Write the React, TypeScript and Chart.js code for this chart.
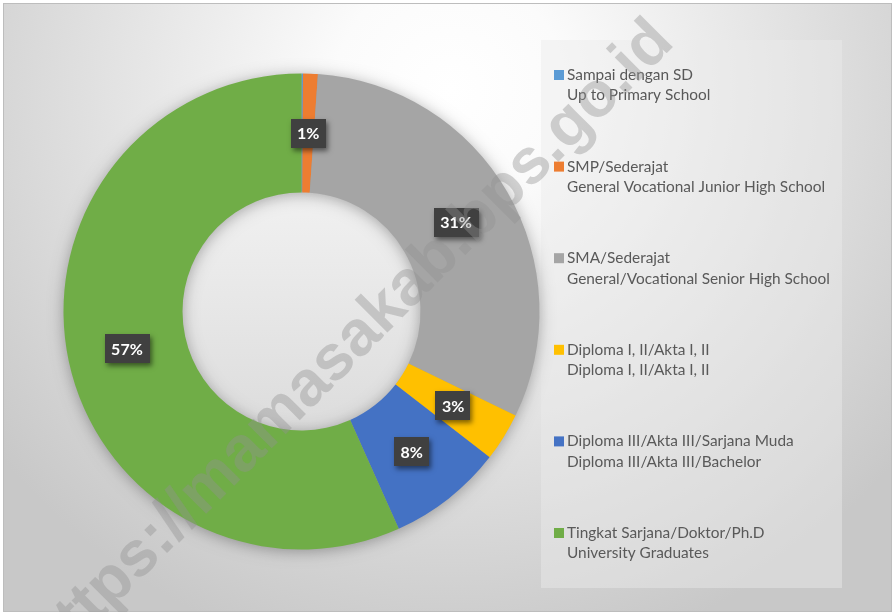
import React, { useEffect, useRef } from 'react';
import { Chart, registerables } from 'chart.js';

Chart.register(...registerables);

const categoriesId = [
  'Sampai dengan SD',
  'SMP/Sederajat',
  'SMA/Sederajat',
  'Diploma I, II/Akta I, II',
  'Diploma III/Akta III/Sarjana Muda',
  'Tingkat Sarjana/Doktor/Ph.D',
];
const categoriesEn = [
  'Up to Primary School',
  'General Vocational Junior High School',
  'General/Vocational Senior High School',
  'Diploma I, II/Akta I, II',
  'Diploma III/Akta III/Bachelor',
  'University Graduates',
];
const shares = [0.1, 1.0, 31.1, 3.3, 7.8, 56.7];
const sliceColors = ['#5B9BD5', '#ED7D31', '#A5A5A5', '#FFC000', '#4472C4', '#70AD47'];
const watermarkText = 'https://mamasakab.bps.go.id';

const FONT = 'Lato, "Liberation Sans", sans-serif';

const decorPlugin = {
  id: 'decor',
  beforeDraw(chart: any) {
    const ctx = chart.ctx;
    const W = chart.width;
    const H = chart.height;
    ctx.save();
    ctx.fillStyle = '#ffffff';
    ctx.fillRect(0, 0, W, H);
    const g = ctx.createRadialGradient(450, 90, 0, 450, 90, 580);
    g.addColorStop(0, '#ffffff');
    g.addColorStop(0.2, '#fbfbfb');
    g.addColorStop(1, '#c8c8c8');
    ctx.fillStyle = g;
    ctx.fillRect(4, 4, W - 6, H - 5);
    ctx.strokeStyle = '#bdbdbd';
    ctx.lineWidth = 1;
    ctx.strokeRect(3.5, 3.5, W - 5, H - 4);
    // legend box
    ctx.fillStyle = 'rgba(234,234,234,0.45)';
    ctx.fillRect(541, 40, 301, 548);
    ctx.restore();
  },
  beforeDatasetsDraw(chart: any) {
    const ctx = chart.ctx;
    const arc = chart.getDatasetMeta(0).data[0];
    if (!arc) return;
    const p = arc.getProps(['x', 'y', 'outerRadius', 'innerRadius'], true);
    ctx.save();
    // hole fill
    const hg = ctx.createLinearGradient(0, p.y - p.innerRadius, 0, p.y + p.innerRadius);
    hg.addColorStop(0, '#f1f1f1');
    hg.addColorStop(1, '#dcdcdc');
    ctx.beginPath();
    ctx.arc(p.x, p.y, p.innerRadius + 2, 0, Math.PI * 2);
    ctx.fillStyle = hg;
    ctx.fill();
    // ring shadow
    ctx.beginPath();
    ctx.arc(p.x, p.y, p.outerRadius - 1, 0, Math.PI * 2);
    ctx.arc(p.x, p.y, p.innerRadius + 1, 0, Math.PI * 2, true);
    ctx.shadowColor = 'rgba(0,0,0,0.35)';
    ctx.shadowBlur = 16;
    ctx.shadowOffsetY = 2;
    ctx.fillStyle = '#999999';
    ctx.fill();
    ctx.restore();
  },
  afterDatasetsDraw(chart: any) {
    const ctx = chart.ctx;
    const ds = chart.data.datasets[0];
    const vals = ds.data as number[];
    const total = vals.reduce((a, b) => a + b, 0);
    const meta = chart.getDatasetMeta(0);
    ctx.save();
    ctx.font = 'bold 16px ' + FONT;
    ctx.textAlign = 'center';
    ctx.textBaseline = 'middle';
    meta.data.forEach((arc: any, i: number) => {
      const pct = Math.round((vals[i] / total) * 100);
      if (pct < 1) return;
      const pos = arc.tooltipPosition(true);
      const text = pct + '%';
      const w = ctx.measureText(text).width + 13;
      const h = 29;
      ctx.save();
      ctx.shadowColor = 'rgba(0,0,0,0.5)';
      ctx.shadowBlur = 5;
      ctx.shadowOffsetX = 2;
      ctx.shadowOffsetY = 3;
      ctx.fillStyle = '#404040';
      ctx.fillRect(Math.round(pos.x - w / 2), Math.round(pos.y - h / 2), Math.round(w), h);
      ctx.restore();
      ctx.fillStyle = '#ffffff';
      ctx.fillText(text, pos.x, pos.y + 1);
    });
    ctx.restore();
  },
  afterDraw(chart: any) {
    const ctx = chart.ctx;
    const labels = chart.data.labels as string[][];
    const colors = chart.data.datasets[0].backgroundColor as string[];
    ctx.save();
    // legend
    ctx.font = '15.4px ' + FONT;
    ctx.textAlign = 'left';
    ctx.textBaseline = 'middle';
    labels.forEach((lab, i) => {
      const y = 75 + i * 91.6;
      ctx.fillStyle = colors[i];
      ctx.fillRect(554, y - 5, 10, 10);
      ctx.fillStyle = '#595959';
      lab.forEach((line, j) => {
        ctx.fillText(line, 567, y + j * 20.5);
      });
    });
    // watermark
    ctx.translate(352, 344);
    ctx.rotate(-Math.PI / 4);
    ctx.font = 'bold 64px "Liberation Sans", Arial, sans-serif';
    ctx.textAlign = 'center';
    ctx.textBaseline = 'alphabetic';
    ctx.fillStyle = 'rgba(145,145,145,0.4)';
    ctx.fillText(watermarkText, 0, 17);
    ctx.restore();
  },
};

export default function App() {
  const ref = useRef<HTMLCanvasElement | null>(null);
  useEffect(() => {
    if (!ref.current) return;
    const chart = new Chart(ref.current, {
      type: 'doughnut',
      data: {
        labels: categoriesId.map((c, i) => [c, categoriesEn[i]]),
        datasets: [
          {
            data: shares,
            backgroundColor: sliceColors,
            borderWidth: 0,
          },
        ],
      },
      options: {
        responsive: false,
        animation: false,
        devicePixelRatio: 1,
        cutout: '50%',
        layout: { padding: { left: 63.5, top: 73.5, right: 353.5, bottom: 62.5 } },
        plugins: {
          legend: { display: false },
          tooltip: { enabled: false },
          title: { display: false },
        },
      },
      plugins: [decorPlugin],
    });
    return () => chart.destroy();
  }, []);
  return (
    <div style={{ position: 'fixed', left: 0, top: 0, width: 893, height: 612 }}>
      <canvas ref={ref} width={893} height={612} style={{ display: 'block' }} />
    </div>
  );
}
